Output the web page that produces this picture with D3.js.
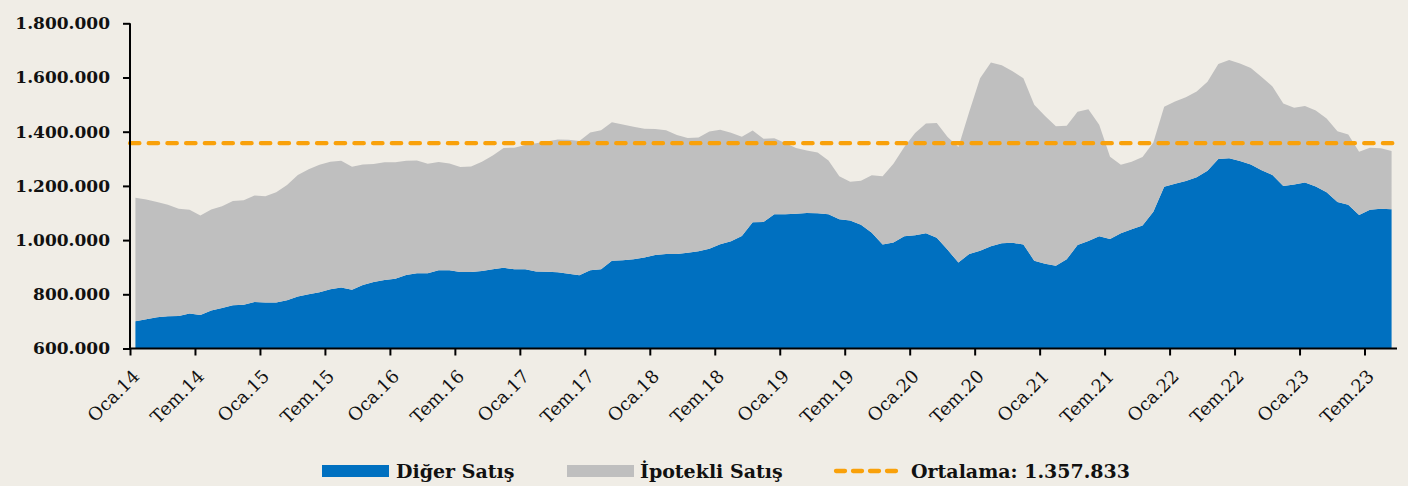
<!DOCTYPE html>
<html lang="tr">
<head>
    <meta charset="UTF-8">
    <title>Konut Satışları</title>
    <script src="https://d3js.org/d3.v7.min.js"></script>
    <style>
        body { margin: 0; background: #f0ede6; }
        svg { display: block; font-family: "DejaVu Serif", serif; }
        .axis path, .axis line { stroke: #000; stroke-width: 2px; }
        .axis text { fill: #111; font-family: "DejaVu Serif", serif; }
        .y-axis text { font-size: 17px; font-weight: bold; }
        .x-axis text { font-size: 18px; }
        .legend text { font-size: 19px; font-weight: bold; fill: #111; }
    </style>
</head>
<body>
    <svg id="chart" width="1408" height="486"></svg>

    <script>
        // monthly values, Oca.14 .. Eyl.23 (thousands)
        const digerSatis = [
            701, 708, 715, 719, 720, 729, 724, 740, 749, 760, 761, 772,
            770, 770, 778, 792, 800, 808, 819, 825, 817, 834, 845, 853,
            857, 871, 878, 878, 889, 889, 882, 882, 886, 892, 898, 892,
            892, 884, 883, 881, 876, 870, 889, 892, 924, 926, 929, 936,
            945, 949, 949, 953, 959, 968, 985, 996, 1015, 1066, 1067, 1095,
            1095, 1097, 1100, 1099, 1095, 1077, 1072, 1057, 1027, 984, 991, 1014,
            1018, 1025, 1009, 964, 917, 949, 961, 977, 988, 990, 984, 924,
            913, 905, 929, 982, 997, 1014, 1004, 1025, 1040, 1054, 1105, 1197,
            1208, 1218, 1232, 1256, 1299, 1302, 1292, 1279, 1258, 1240, 1200, 1205,
            1213, 1198, 1177, 1141, 1130, 1093, 1112, 1116, 1114
        ];
        const ipotekliSatis = [
            455, 442, 426, 411, 396, 383, 367, 373, 376, 384, 386, 393,
            392, 407, 425, 448, 461, 470, 470, 468, 454, 445, 436, 434,
            430, 422, 416, 404, 399, 394, 388, 390, 403, 420, 442, 449,
            459, 473, 481, 490, 494, 496, 508, 513, 511, 501, 489, 475,
            465, 456, 439, 424, 420, 433, 422, 400, 366, 338, 307, 281,
            263, 243, 231, 224, 199, 159, 143, 162, 212, 252, 291, 330,
            377, 405, 423, 416, 427, 525, 636, 678, 657, 633, 613, 575,
            545, 515, 493, 492, 486, 412, 304, 253, 249, 253, 255, 295,
            303, 309, 316, 328, 351, 363, 360, 356, 344, 327, 304, 283,
            282, 280, 272, 261, 260, 233, 229, 223, 215
        ];
        const tickLabels = [
            "Oca.14", "Tem.14", "Oca.15", "Tem.15", "Oca.16", "Tem.16", "Oca.17", "Tem.17",
            "Oca.18", "Tem.18", "Oca.19", "Tem.19", "Oca.20", "Tem.20", "Oca.21", "Tem.21",
            "Oca.22", "Tem.22", "Oca.23", "Tem.23"
        ];
        const seriesNames = ["Diğer Satış", "İpotekli Satış"];
        const ortalama = 1357833;
        const yTicks = [600000, 800000, 1000000, 1200000, 1400000, 1600000, 1800000];

        const colors = ["#0070c0", "#bfbfbf"];
        const avgColor = "#f9a10a";

        const plotLeft = 130, plotRight = 1397, plotTop = 23.3, plotBottom = 348.5;
        const n = digerSatis.length;

        const svg = d3.select("#chart");

        const rows = digerSatis.map((d, i) => ({ i: i, diger: d * 1000, ipotekli: ipotekliSatis[i] * 1000 }));
        const stacked = d3.stack().keys(["diger", "ipotekli"])(rows);

        const x = d3.scaleLinear().domain([0, n]).range([plotLeft, plotRight]);
        const y = d3.scaleLinear().domain([600000, 1800000]).range([plotBottom, plotTop]);

        const area = d3.area()
            .x(d => x(d.data.i + 0.5))
            .y0(d => y(Math.max(d[0], 600000)))
            .y1(d => y(d[1]));

        svg.selectAll(".layer")
            .data(stacked)
            .enter().append("path")
            .attr("class", "layer")
            .attr("fill", (d, k) => colors[k])
            .attr("d", area);

        // average line
        svg.append("line")
            .attr("x1", plotLeft)
            .attr("x2", plotRight)
            .attr("y1", y(ortalama))
            .attr("y2", y(ortalama))
            .attr("stroke", avgColor)
            .attr("stroke-width", 4.3)
            .attr("stroke-linecap", "round")
            .attr("stroke-dasharray", "9.4 9.3");

        const trLocale = d3.formatLocale({ decimal: ",", thousands: ".", grouping: [3], currency: ["", ""] });
        const fmt = trLocale.format(",");

        const yAxis = svg.append("g")
            .attr("class", "axis y-axis")
            .attr("transform", `translate(${plotLeft},0)`)
            .call(d3.axisLeft(y).tickValues(yTicks).tickFormat(fmt).tickSize(7).tickSizeOuter(0).tickPadding(13));
        yAxis.select(".domain").attr("d", `M0,${plotTop}V${plotBottom}`);

        const xAxis = svg.append("g")
            .attr("class", "axis x-axis")
            .attr("transform", `translate(0,${plotBottom})`)
            .call(d3.axisBottom(x)
                .tickValues(tickLabels.map((t, k) => k * 6))
                .tickFormat((v, k) => tickLabels[k])
                .tickSize(7)
                .tickSizeOuter(0));
        xAxis.select(".domain").attr("d", `M${plotLeft - 1},0H${plotRight}`);
        xAxis.selectAll(".tick text")
            .attr("text-anchor", "end")
            .attr("dy", null)
            .attr("y", 0)
            .attr("transform", "translate(10,29) rotate(-45)");

        // legend
        const legend = svg.append("g").attr("class", "legend");
        const items = [
            { name: seriesNames[0], type: "rect", color: colors[0], x: 322, tx: 396 },
            { name: seriesNames[1], type: "rect", color: colors[1], x: 567, tx: 640 },
            { name: "Ortalama: " + fmt(ortalama), type: "line", color: avgColor, x: 834, tx: 911 }
        ];
        items.forEach(it => {
            if (it.type === "rect") {
                legend.append("rect")
                    .attr("x", it.x).attr("y", 465)
                    .attr("width", 67).attr("height", 12)
                    .attr("fill", it.color);
            } else {
                legend.append("line")
                    .attr("x1", it.x + 2).attr("x2", it.x + 66)
                    .attr("y1", 471).attr("y2", 471)
                    .attr("stroke", it.color)
                    .attr("stroke-width", 4.3)
                    .attr("stroke-linecap", "round")
                    .attr("stroke-dasharray", "9 8");
            }
            legend.append("text")
                .attr("x", it.tx).attr("y", 477.5)
                .text(it.name);
        });
    </script>
</body>
</html>
